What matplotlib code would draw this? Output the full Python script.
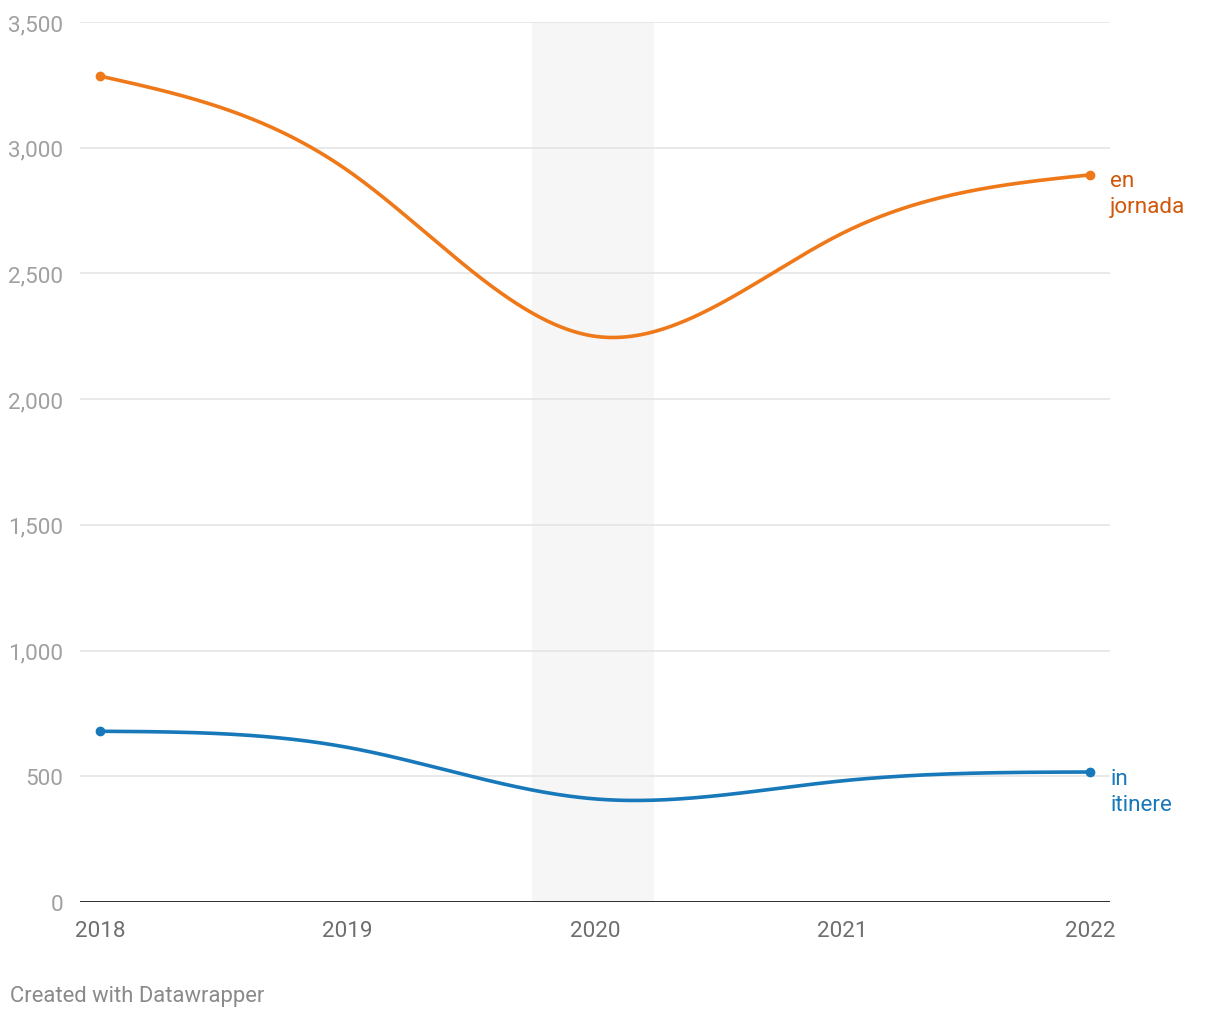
import numpy as np
import matplotlib
matplotlib.use("Agg")
import matplotlib.pyplot as plt

plt.rcParams['font.family'] = ['Roboto', 'DejaVu Sans']

# ---- data ----
years = [2018, 2019, 2020, 2021, 2022]
en_jornada = [3285, 2910, 2250, 2660, 2892]
in_itinere = [679, 615, 410, 482, 517]
yticks = [0, 500, 1000, 1500, 2000, 2500, 3000, 3500]
highlight = (2019.745, 2020.24)

ORANGE = '#ef7819'
ORANGE_TXT = '#d0580a'
BLUE = '#1778ba'
BLUE_TXT = '#1778ba'


def natural_spline(x, y, n=400):
    x = np.asarray(x, float)
    y = np.asarray(y, float)
    k = len(x)
    h = np.diff(x)
    A = np.zeros((k, k))
    b = np.zeros(k)
    A[0, 0] = 1
    A[-1, -1] = 1
    for i in range(1, k - 1):
        A[i, i - 1] = h[i - 1]
        A[i, i] = 2 * (h[i - 1] + h[i])
        A[i, i + 1] = h[i]
        b[i] = 6 * ((y[i + 1] - y[i]) / h[i] - (y[i] - y[i - 1]) / h[i - 1])
    M = np.linalg.solve(A, b)
    xs = np.linspace(x[0], x[-1], n)
    ys = np.empty_like(xs)
    for j, t in enumerate(xs):
        i = min(np.searchsorted(x, t, side='right') - 1, k - 2)
        hi = h[i]
        a = (x[i + 1] - t) / hi
        c = (t - x[i]) / hi
        ys[j] = (a * y[i] + c * y[i + 1]
                 + ((a ** 3 - a) * M[i] + (c ** 3 - c) * M[i + 1]) * hi ** 2 / 6)
    return xs, ys


fig = plt.figure(figsize=(12.2, 10.2), dpi=100)
W, H = 1220, 1020
px_per_year = (1090 - 100) / 4
x0 = 2018 - (100 - 80) / px_per_year
x1 = 2022 + (1110 - 1090) / px_per_year
ax = fig.add_axes([80 / W, (H - 903) / H, (1110 - 80) / W, (903 - 23) / H])
ax.set_xlim(x0, x1)
ax.set_ylim(0, 3500)

for s in ax.spines.values():
    s.set_visible(False)

ax.axvspan(highlight[0], highlight[1], ymin=0, ymax=1, color='#f6f6f6', lw=0, zorder=0)

for v in yticks[1:]:
    ax.axhline(v, color='#e3e3e3', lw=1.1, zorder=1)
ax.axhline(0, color='#1a1a1a', lw=2.0, zorder=4)

ax.set_yticks(yticks)
ax.set_yticklabels([f'{v:,}' for v in yticks])
ax.set_xticks(years)
ax.set_xticklabels([str(y) for y in years])
ax.tick_params(axis='y', length=0, pad=12, labelsize=16.2, labelcolor='#a0a0a0')
ax.tick_params(axis='x', length=0, pad=13, labelsize=16.2, labelcolor='#6e6e6e')

for vals, col in [(en_jornada, ORANGE), (in_itinere, BLUE)]:
    xs, ys = natural_spline(years, vals)
    ax.plot(xs, ys, color=col, lw=2.6, solid_capstyle='round', zorder=5)
    ax.plot([years[0], years[-1]], [vals[0], vals[-1]], 'o', color=col, ms=6, zorder=6,
            clip_on=False)

ax.annotate('en\njornada', xy=(years[-1], en_jornada[-1]), xytext=(14.5, -13.5),
            textcoords='offset points', ha='left', va='center', fontsize=16.2,
            color=ORANGE_TXT, linespacing=1.3, annotation_clip=False)
ax.annotate('in\nitinere', xy=(years[-1], in_itinere[-1]), xytext=(14.5, -14),
            textcoords='offset points', ha='left', va='center', fontsize=16.2,
            color=BLUE_TXT, linespacing=1.3, annotation_clip=False)

fig.text(10 / W, 1 - 997 / H, 'Created with Datawrapper', ha='left', va='center',
         fontsize=15.8, color='#8a8a8a')

fig.savefig('out.png', dpi=100, facecolor='white')
